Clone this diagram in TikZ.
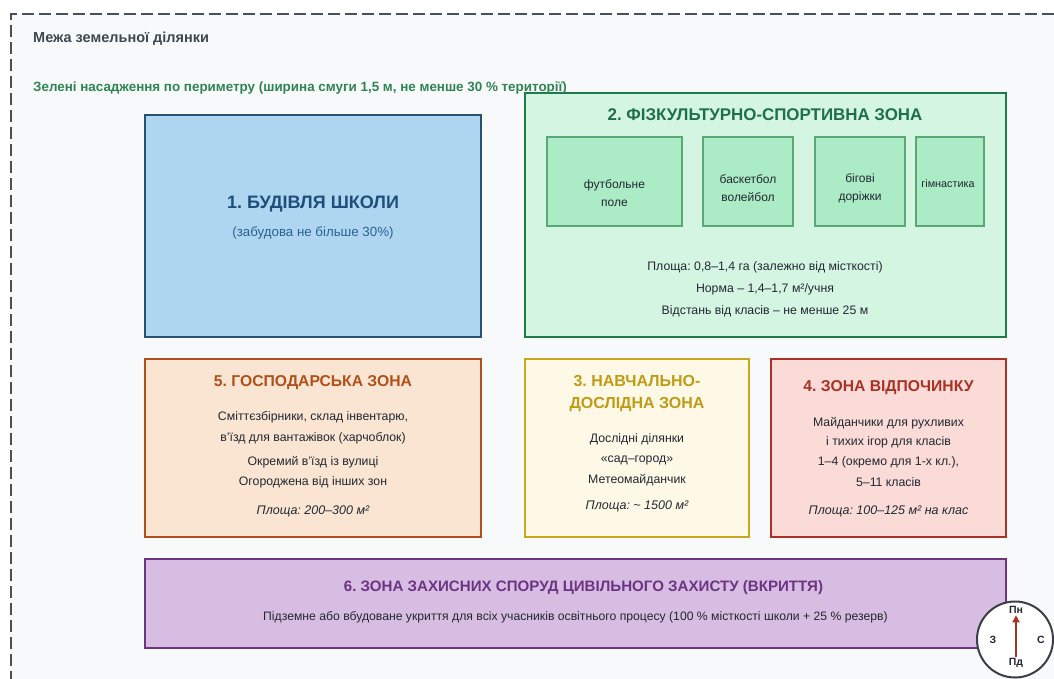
\documentclass[tikz,border=0pt]{standalone}
\usepackage{fontspec}
\setmainfont{Liberation Sans}
\usetikzlibrary{arrows.meta}
\frenchspacing
\definecolor{bgin}{HTML}{F8F9FA}
\definecolor{borderc}{HTML}{495057}
\definecolor{labelc}{HTML}{3D4852}
\definecolor{greentxt}{HTML}{2E8553}
\definecolor{txtdark}{HTML}{222831}
\definecolor{bfill}{HTML}{AED6F1}
\definecolor{bdraw}{HTML}{2B4F6E}
\definecolor{btitle}{HTML}{1F4E79}
\definecolor{bsub}{HTML}{2E6190}
\definecolor{gfill}{HTML}{D5F5E3}
\definecolor{gdraw}{HTML}{1E7A48}
\definecolor{gtitle}{HTML}{1E7048}
\definecolor{gsfill}{HTML}{ABEBC6}
\definecolor{gsdraw}{HTML}{5AA878}
\definecolor{ofill}{HTML}{FAE5D3}
\definecolor{odraw}{HTML}{B0501A}
\definecolor{yfill}{HTML}{FEF9E7}
\definecolor{ydraw}{HTML}{C9A81E}
\definecolor{ytitle}{HTML}{BF9B16}
\definecolor{rfill}{HTML}{FADBD8}
\definecolor{rdraw}{HTML}{A93226}
\definecolor{pfill}{HTML}{D7BDE2}
\definecolor{pdraw}{HTML}{6C3483}
\definecolor{compc}{HTML}{3A4046}
\tikzset{
  zone/.style={draw=#1, line width=2pt, inner sep=0pt},
  sub/.style={draw=gsdraw, fill=gsfill, line width=1.2pt, inner sep=0pt},
  ttl/.style={font=\fontsize{15.7}{19}\selectfont\bfseries, text=#1, inner sep=0pt, align=center},
  body/.style={font=\fontsize{12.3}{14}\selectfont, text=txtdark, inner sep=0pt},
  bodyit/.style={font=\fontsize{12.5}{14}\selectfont\itshape, text=txtdark, inner sep=0pt},
  small/.style={font=\fontsize{12}{18}\selectfont, text=txtdark, inner sep=0pt, align=center},
  compl/.style={font=\fontsize{10.5}{12}\selectfont\bfseries, text=txtdark, inner sep=0pt},
}
\begin{document}
\begin{tikzpicture}[x=1pt,y=-1pt]
\clip (0,0) rectangle (1054,679);
\fill[white] (0,0) rectangle (1054,679);
\fill[bgin] (11,14) rectangle (1070,700);
\draw[borderc, line width=2.6pt, dash pattern=on 12pt off 5pt] (11,700) -- (11,14) -- (1070,14);

\node[anchor=west, font=\fontsize{14.5}{16}\selectfont\bfseries, text=labelc, inner sep=0pt] (mezha) at (33,38.5) {Межа земельної ділянки};

% Zone 2
\draw[zone=gdraw, fill=gfill] (525,93) rectangle (1006,337);
\node[ttl=gtitle, font=\fontsize{16.9}{19}\selectfont\bfseries] (t2) at (765,115) {2. ФІЗКУЛЬТУРНО-СПОРТИВНА ЗОНА};
\draw[sub] (547,137) rectangle (682,226);
\draw[sub] (703,137) rectangle (793,226);
\draw[sub] (815,137) rectangle (905,226);
\draw[sub] (916,137) rectangle (984,226);
\node[small] (s1) at (614.5,193) {футбольне\\поле};
\node[small] (s2) at (748,188) {баскетбол\\волейбол};
\node[small] (s3) at (860,188) {бігові\\доріжки};
\node[small, font=\fontsize{10.8}{12}\selectfont] (s4) at (948,184) {гімнастика};
\node[body] (z2a) at (765,267) {Площа: 0,8–1,4 га (залежно від місткості)};
\node[body] (z2b) at (765,289) {Норма – 1,4–1,7 м²/учня};
\node[body] (z2c) at (765,311) {Відстань від класів – не менше 25 м};

\node[anchor=west, font=\fontsize{13.4}{15}\selectfont\bfseries, text=greentxt, inner sep=0pt] (zeleni) at (33,88.5) {Зелені насадження по периметру (ширина смуги 1,5 м, не менше 30 \% території)};

% Zone 1
\draw[zone=bdraw, fill=bfill] (145,115) rectangle (481,337);
\node[ttl=btitle, font=\fontsize{18}{21}\selectfont\bfseries] (t1) at (313,204) {1. БУДІВЛЯ ШКОЛИ};
\node[body, text=bsub, font=\fontsize{13.3}{15}\selectfont] (t1s) at (313,233) {(забудова не більше 30\%)};

% Zone 5
\draw[zone=odraw, fill=ofill] (145,359) rectangle (481,537);
\node[ttl=odraw] (t5) at (313,383) {5. ГОСПОДАРСЬКА ЗОНА};
\node[body] (z5a) at (313,417) {Сміттєзбірники, склад інвентарю,};
\node[body] (z5b) at (313,438) {в’їзд для вантажівок (харчоблок)};
\node[body] (z5c) at (313,462) {Окремий в’їзд із вулиці};
\node[body] (z5d) at (313,482) {Огороджена від інших зон};
\node[bodyit] (z5e) at (313,511) {Площа: 200–300 м²};

% Zone 3
\draw[zone=ydraw, fill=yfill] (525,359) rectangle (749,537);
\node[ttl=ytitle, font=\fontsize{16}{22}\selectfont\bfseries] (t3) at (637,394) {3. НАВЧАЛЬНО-\\ДОСЛІДНА ЗОНА};
\node[body] (z3a) at (637,439) {Дослідні ділянки};
\node[body] (z3b) at (637,460) {«сад–город»};
\node[body] (z3c) at (637,480) {Метеомайданчик};
\node[bodyit] (z3d) at (637,506) {Площа: \textasciitilde{} 1500 м²};

% Zone 4
\draw[zone=rdraw, fill=rfill] (771,359) rectangle (1006,537);
\node[ttl=rdraw] (t4) at (888.5,388) {4. ЗОНА ВІДПОЧИНКУ};
\node[body] (z4a) at (888.5,423) {Майданчики для рухливих};
\node[body] (z4b) at (888.5,442) {і тихих ігор для класів};
\node[body] (z4c) at (888.5,462) {1–4 (окремо для 1-х кл.),};
\node[body] (z4d) at (888.5,482) {5–11 класів};
\node[bodyit] (z4e) at (888.5,511) {Площа: 100–125 м² на клас};

% Zone 6
\draw[zone=pdraw, fill=pfill] (145,559) rectangle (1006,648);
\node[ttl=pdraw, font=\fontsize{15.1}{18}\selectfont\bfseries] (t6) at (583.5,588) {6. ЗОНА ЗАХИСНИХ СПОРУД ЦИВІЛЬНОГО ЗАХИСТУ (ВКРИТТЯ)};
\node[body, font=\fontsize{12.2}{14}\selectfont] (z6a) at (575.5,617) {Підземне або вбудоване укриття для всіх учасників освітнього процесу (100 \% місткості школи + 25 \% резерв)};

% Compass
\node[circle, draw=compc, fill=white, line width=2pt, minimum size=76pt, inner sep=0pt] (comp) at (1015,639.5) {};
\node[compl] (pn) at (1016,610) {Пн};
\node[compl] (pd) at (1016,663) {Пд};
\node[compl] (zah) at (993,640) {З};
\node[compl] (sh) at (1041,640) {С};
\draw[rdraw, line width=2pt, -{Triangle[length=7pt,width=7pt]}] ([yshift=1.5pt]pd.north) -- ([yshift=-1.5pt]pn.south);
\end{tikzpicture}
\end{document}
